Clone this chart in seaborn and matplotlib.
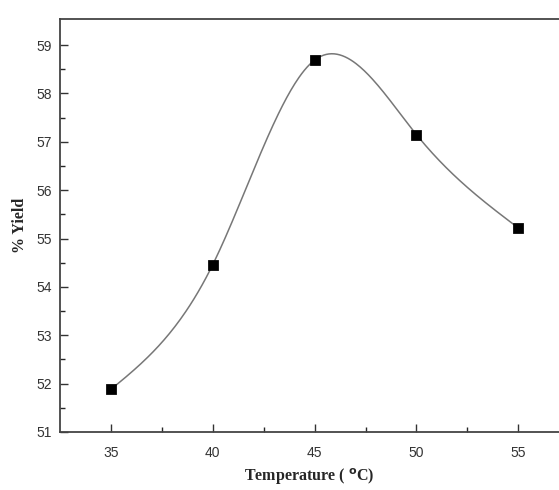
import numpy as np
import pandas as pd
import seaborn as sns
import matplotlib.pyplot as plt

# values
temperature = [35, 40, 45, 50, 55]
yield_pct = [51.88, 54.46, 58.69, 57.15, 55.22]


def natural_spline(x, y, n=300):
    # natural cubic spline through the points, for the smooth connecting line
    x = np.asarray(x, float)
    y = np.asarray(y, float)
    h = np.diff(x)
    m = len(x)
    A = np.zeros((m, m))
    r = np.zeros(m)
    A[0, 0] = A[-1, -1] = 1
    for i in range(1, m - 1):
        A[i, i - 1] = h[i - 1]
        A[i, i] = 2 * (h[i - 1] + h[i])
        A[i, i + 1] = h[i]
        r[i] = 6 * ((y[i + 1] - y[i]) / h[i] - (y[i] - y[i - 1]) / h[i - 1])
    M = np.linalg.solve(A, r)
    xs = np.linspace(x[0], x[-1], n)
    k = np.clip(np.searchsorted(x, xs) - 1, 0, m - 2)
    t0 = xs - x[k]
    t1 = x[k + 1] - xs
    hk = h[k]
    ys = (M[k] * t1**3 + M[k + 1] * t0**3) / (6 * hk) \
        + (y[k] / hk - M[k] * hk / 6) * t1 + (y[k + 1] / hk - M[k + 1] * hk / 6) * t0
    return xs, ys


sns.set_style('ticks')
plt.rcParams['font.family'] = ['Liberation Sans', 'DejaVu Sans']
plt.rcParams['xtick.direction'] = 'in'
plt.rcParams['ytick.direction'] = 'in'

df = pd.DataFrame({'Temperature': temperature, 'Yield': yield_pct})
xs, ys = natural_spline(temperature, yield_pct)
curve = pd.DataFrame({'Temperature': xs, 'Yield': ys})

fig = plt.figure(figsize=(5.59, 4.9), dpi=100)
ax = fig.add_axes([0.1073, 0.1184, 0.8927, 0.8428])

sns.lineplot(data=curve, x='Temperature', y='Yield', ax=ax, color='#777777', linewidth=1.1)
sns.scatterplot(data=df, x='Temperature', y='Yield', ax=ax, marker='s', s=48,
                color='black', edgecolor='black', zorder=3)

ax.set_xlim(32.5, 57.0)
ax.set_ylim(51, 59.54)
ax.set_xticks([35, 40, 45, 50, 55])
ax.set_xticks([37.5, 42.5, 47.5, 52.5], minor=True)
ax.set_yticks(range(51, 60))
ax.set_yticks(np.arange(51.5, 59.5, 1), minor=True)
ax.tick_params(which='major', length=6, width=1, labelsize=10, colors='#333333', pad=6)
ax.tick_params(which='minor', length=3.5, width=1)
ax.tick_params(axis='x', pad=10)

for side in ['left', 'bottom', 'top']:
    ax.spines[side].set_color('#444444')
    ax.spines[side].set_linewidth(1.3)
ax.spines['right'].set_visible(False)

ax.set_xlabel('Temperature ( $^{\\mathbf{o}}$C)', family='Liberation Serif',
              fontweight='bold', fontsize=11.5, labelpad=5)
ax.set_ylabel('% Yield', family='Liberation Serif', fontweight='bold', fontsize=11.5, labelpad=6)

fig.savefig('out.png', dpi=100)
